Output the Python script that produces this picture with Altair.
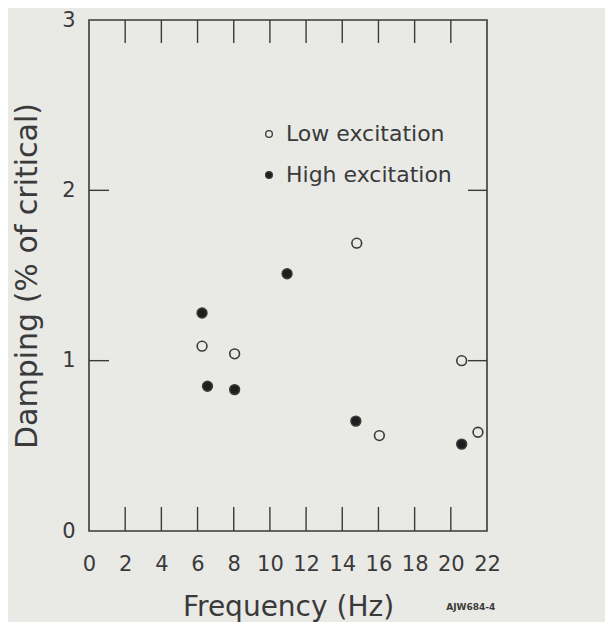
import altair as alt
import pandas as pd

# Data
low_freq = [6.25, 8.05, 14.8, 16.05, 20.6, 21.5]
low_damp = [1.085, 1.04, 1.69, 0.56, 1.0, 0.58]
high_freq = [6.25, 6.55, 8.05, 10.95, 14.75, 20.6]
high_damp = [1.28, 0.85, 0.83, 1.51, 0.645, 0.51]

x_ticks = [2, 4, 6, 8, 10, 12, 14, 16, 18, 20]
y_ticks = [1, 2]
x_labels = list(range(0, 23, 2))
y_labels = [0, 1, 2, 3]

series = ["Low excitation", "High excitation"]

BG = "#e9e9e6"
INK = "#3a3a3a"
FONT = "DejaVu Sans"
W, H = 398, 511

pts = pd.DataFrame(
    {"freq": low_freq + high_freq,
     "damp": low_damp + high_damp,
     "series": [series[0]] * len(low_freq) + [series[1]] * len(high_freq)}
)
xt = pd.DataFrame({"v": x_ticks})
yt = pd.DataFrame({"v": y_ticks})

xscale = alt.Scale(domain=[0, 22], nice=False, zero=False)
yscale = alt.Scale(domain=[0, 3], nice=False, zero=False)

x_axis = alt.Axis(values=x_labels, format="d", title="Frequency (Hz)", ticks=False,
                  domain=False, grid=False, labelFontSize=21, labelPadding=22,
                  labelOverlap=False, labelFlush=False,
                  labelColor=INK, titleFontSize=28, titleFontWeight="normal",
                  titleColor=INK, titlePadding=19, labelFont=FONT, titleFont=FONT)
y_axis = alt.Axis(values=y_labels, format="d", title="Damping (% of critical)",
                  ticks=False, domain=False, grid=False, labelFontSize=21,
                  labelPadding=14, labelColor=INK, titleFontSize=30,
                  labelOverlap=False, labelFlush=False,
                  titleFontWeight="normal", titleColor=INK, titlePadding=19,
                  labelFont=FONT, titleFont=FONT)

points = alt.Chart(pts).mark_point(filled=True, opacity=1, size=95, stroke=INK,
                                   strokeWidth=1.6).encode(
    x=alt.X("freq:Q", scale=xscale, axis=x_axis),
    y=alt.Y("damp:Q", scale=yscale, axis=y_axis),
    fill=alt.Fill("series:N", scale=alt.Scale(domain=series, range=[BG, "#1e1e1e"]),
                  legend=alt.Legend(title=None, orient="none", legendX=169, legendY=103,
                                    labelFontSize=22, labelFont=FONT, labelColor=INK,
                                    labelLimit=400,
                                    symbolType="circle", symbolSize=45, symbolOpacity=1,
                                    symbolStrokeColor=INK, symbolStrokeWidth=1.3,
                                    rowPadding=19, labelOffset=6, padding=0)),
)

bottom_ticks = alt.Chart(xt).mark_rule(color=INK, strokeWidth=1.4).encode(
    x=alt.X("v:Q", scale=xscale, axis=x_axis), y=alt.value(H), y2=alt.value(H - 24))
top_ticks = alt.Chart(xt).mark_rule(color=INK, strokeWidth=1.4).encode(
    x=alt.X("v:Q", scale=xscale, axis=x_axis), y=alt.value(0), y2=alt.value(23))
left_ticks = alt.Chart(yt).mark_rule(color=INK, strokeWidth=1.4).encode(
    y=alt.Y("v:Q", scale=yscale, axis=y_axis), x=alt.value(0), x2=alt.value(20))
right_ticks = alt.Chart(yt).mark_rule(color=INK, strokeWidth=1.4).encode(
    y=alt.Y("v:Q", scale=yscale, axis=y_axis), x=alt.value(W), x2=alt.value(W - 19))

note = alt.Chart(pd.DataFrame({"x": [21.1], "y": [-0.445], "t": ["AJW684-4"]})).mark_text(
    fontSize=9, font=FONT, color=INK, clip=False, fontWeight="bold"
).encode(x=alt.X("x:Q", scale=xscale, axis=x_axis),
         y=alt.Y("y:Q", scale=yscale, axis=y_axis), text="t:N")

chart = alt.layer(points, bottom_ticks, top_ticks, left_ticks, right_ticks, note).properties(
    width=W, height=H, background=BG,
    padding={"left": 81, "top": 12, "right": 118, "bottom": 91},
    autosize=alt.AutoSizeParams(type="none"),
).configure_view(stroke=INK, strokeWidth=1.6)

chart.save("out.html", embed_options={"renderer": "svg", "actions": False})
